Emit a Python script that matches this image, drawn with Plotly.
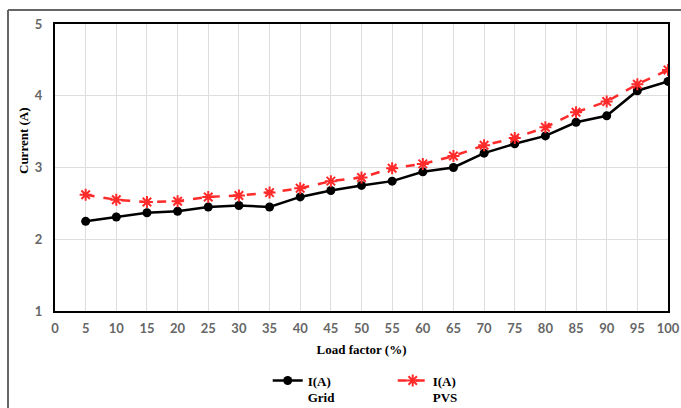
import plotly.graph_objects as go

load_factor = [5, 10, 15, 20, 25, 30, 35, 40, 45, 50, 55, 60, 65, 70, 75, 80, 85, 90, 95, 100]
i_grid = [2.25, 2.31, 2.37, 2.39, 2.45, 2.47, 2.45, 2.59, 2.68, 2.75, 2.81, 2.94, 3.00, 3.20, 3.33, 3.44, 3.63, 3.72, 4.07, 4.20]
i_pvs = [2.62, 2.55, 2.52, 2.53, 2.59, 2.61, 2.65, 2.71, 2.81, 2.86, 2.99, 3.05, 3.16, 3.31, 3.41, 3.56, 3.77, 3.92, 4.16, 4.36]

fig = go.Figure()
fig.add_trace(go.Scatter(
    x=load_factor, y=i_grid, mode="lines+markers", name="I(A)<br>Grid",
    line=dict(color="black", width=2.5),
    marker=dict(symbol="circle", size=9, color="black"),
))
fig.add_trace(go.Scatter(
    x=load_factor, y=i_pvs, mode="lines+markers", name="I(A)<br>PVS",
    line=dict(color="#FF2A2A", width=2.5, dash="dash"),
    marker=dict(symbol="asterisk-open", size=10, line=dict(color="#FF2A2A", width=2)),
))

tickfont = dict(family="Lato, Open Sans, sans-serif", size=13, color="#666666")
titlefont = dict(family="Liberation Serif, Times New Roman, serif", size=13, color="black")

fig.update_layout(
    width=681, height=408,
    margin=dict(l=55, r=13, t=24, b=97, autoexpand=False),
    paper_bgcolor="white", plot_bgcolor="white",
    showlegend=True,
    legend=dict(
        orientation="h", x=0.347, xanchor="left", y=-0.19, yanchor="top",
        valign="top", entrywidth=80, entrywidthmode="pixels",
        font=dict(family="Liberation Serif, Times New Roman, serif", size=13, color="black", weight="bold"),
        bgcolor="rgba(0,0,0,0)",
    ),
    xaxis=dict(
        range=[0, 100], dtick=5, tick0=0, automargin=False,
        showgrid=True, gridcolor="#DDDDDD", gridwidth=1,
        showline=True, linecolor="black", linewidth=2, mirror=True,
        zeroline=False, ticks="", tickfont=dict(**tickfont, weight="bold"),
        ticklabelstandoff=4,
        title=dict(text="<b>Load factor (%)</b>", font=titlefont, standoff=10),
    ),
    yaxis=dict(
        range=[1, 5], dtick=1, tick0=1, automargin=False,
        showgrid=True, gridcolor="#DDDDDD", gridwidth=1,
        showline=True, linecolor="black", linewidth=2, mirror=True,
        zeroline=False, ticks="", tickfont=dict(**tickfont, weight="bold"),
        ticklabelstandoff=8,
    ),
    annotations=[
        dict(text="<b>Current (A)</b>", xref="paper", yref="paper",
             x=-32/613, y=(311 - 141) / 287, xanchor="center", yanchor="middle",
             textangle=-90, showarrow=False, font=titlefont),
    ],
    shapes=[
        dict(type="line", xref="paper", yref="paper",
             x0=-47/613, x1=1.1, y0=1 + 14/287, y1=1 + 14/287,
             line=dict(color="#666666", width=2)),
        dict(type="line", xref="paper", yref="paper",
             x0=-47/613, x1=-47/613, y0=1 + 14/287, y1=-0.5,
             line=dict(color="#666666", width=2)),
    ],
)

fig.write_html(
    "out.html",
    config={"displayModeBar": False},
    post_script="document.body.style.margin='0';document.body.style.overflow='hidden';",
)
